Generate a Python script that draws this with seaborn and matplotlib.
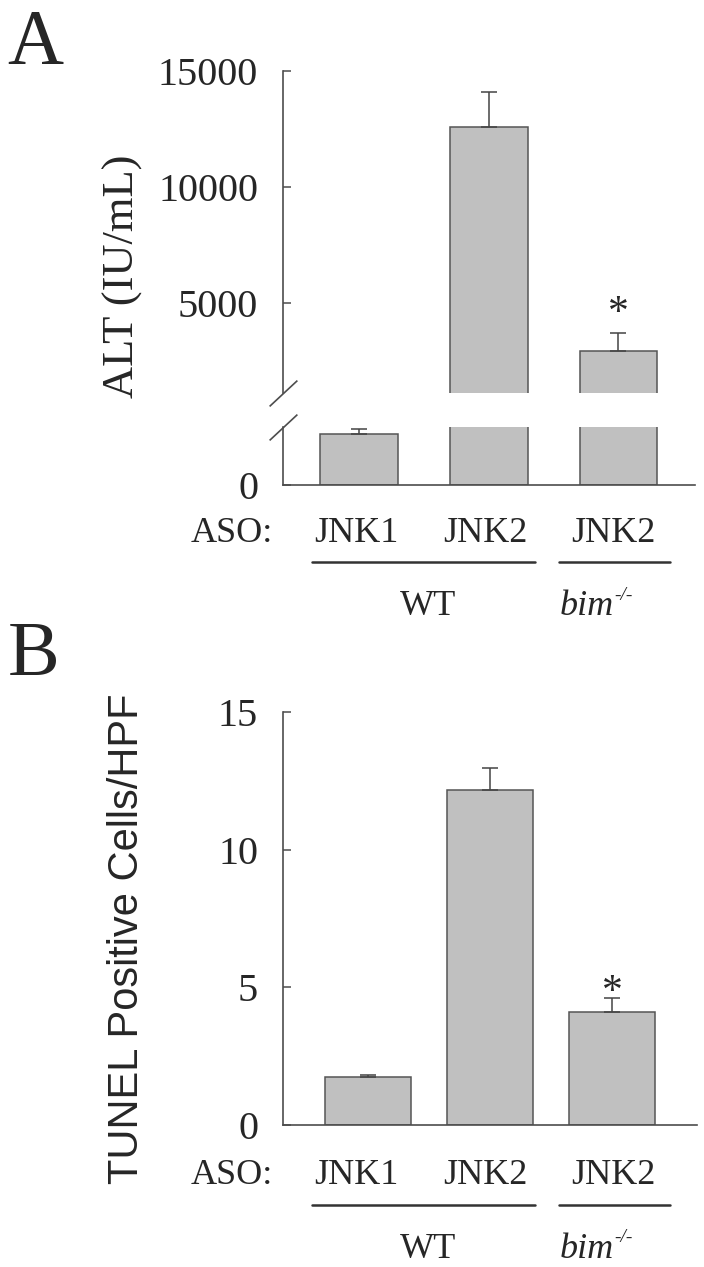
import numpy as np
import matplotlib
matplotlib.use('Agg')
import matplotlib.pyplot as plt
from matplotlib.lines import Line2D
import seaborn as sns

# ---- data ----
conditions = ['WT JNK1', 'WT JNK2', 'bim JNK2']
aso_labels = ['JNK1', 'JNK2', 'JNK2']
genotype_labels = ['WT', 'bim', '-/-']

alt_mean = [880, 12600, 2930]     # IU/mL
alt_err = [80, 1500, 770]
tunel_mean = [1.75, 12.15, 4.1]   # cells/HPF
tunel_err = [0.05, 0.8, 0.5]
star_index = 2

alt_ticks_top = [5000, 10000, 15000]
alt_ticks_low = [0]
tunel_ticks = [0, 5, 10, 15]

# ---- style ----
sns.set_theme(style='ticks')
plt.rcParams['font.family'] = ['Liberation Serif', 'DejaVu Serif']

BAR = '#c0c0c0'
EDGE = '#555555'
AXC = '#4d4d4d'
W, H = 704, 1267

fig = plt.figure(figsize=(W / 100, H / 100), dpi=100)


def rect(x0, y0, x1, y1):
    # pixel box -> figure fraction [left, bottom, width, height]
    return [x0 / W, 1 - y1 / H, (x1 - x0) / W, (y1 - y0) / H]


def style_axis(ax, ticks):
    ax.set_yticks(ticks)
    ax.tick_params(axis='y', direction='in', length=6, width=1.1, color=AXC,
                   pad=18, labelsize=29)
    ax.tick_params(axis='x', length=0, labelbottom=False)
    ax.set_xlabel('')
    ax.set_ylabel('')
    for s in ['top', 'right']:
        ax.spines[s].set_visible(False)
    for s in ['left', 'bottom']:
        ax.spines[s].set_color(AXC)
        ax.spines[s].set_linewidth(1.2)


def draw_bars(ax, means, errs, width):
    sns.barplot(x=conditions, y=means, color=BAR, saturation=1, width=width,
                edgecolor=EDGE, linewidth=1.1, errorbar=None, ax=ax)
    ax.errorbar(x=np.arange(len(means)), y=means,
                yerr=[np.zeros(len(errs)), errs], fmt='none',
                ecolor='#444444', elinewidth=1.1, capsize=6, capthick=1.1)


# ---- panel A: broken axis ----
axA_top = fig.add_axes(rect(283, 71, 695, 393))
axA_low = fig.add_axes(rect(283, 427, 695, 485))
for ax in (axA_top, axA_low):
    draw_bars(ax, alt_mean, alt_err, 0.6)
    ax.set_xlim(-0.586, 2.59)
axA_top.set_ylim(1120, 15000)
axA_low.set_ylim(0, 1000)
style_axis(axA_top, alt_ticks_top)
style_axis(axA_low, alt_ticks_low)
axA_top.spines['bottom'].set_visible(False)

# break marks
d = 0.93
kw = dict(marker=[(-1, -d), (1, d)], markersize=20, linestyle='none',
          color=AXC, mec=AXC, mew=1.2, clip_on=False)
axA_top.plot([0], [0], transform=axA_top.transAxes, **kw)
axA_low.plot([0], [1], transform=axA_low.transAxes, **kw)

axA_top.annotate('*', xy=(star_index, alt_mean[star_index] + alt_err[star_index]),
                 xytext=(0, 0), textcoords='offset points',
                 ha='center', va='bottom', fontsize=30)

# ---- panel B ----
axB = fig.add_axes(rect(283, 712, 697, 1125))
draw_bars(axB, tunel_mean, tunel_err, 0.705)
axB.set_xlim(-0.697, 2.697)
axB.set_ylim(0, 15)
style_axis(axB, tunel_ticks)
axB.annotate('*', xy=(star_index, tunel_mean[star_index] + tunel_err[star_index]),
             xytext=(0, -10), textcoords='offset points',
             ha='center', va='bottom', fontsize=30)


# ---- texts ----
def ftext(x, y, s, **kw):
    fig.text(x / W, 1 - y / H, s, **kw)


ftext(7, 63, 'A', fontsize=56, va='baseline', ha='left')
ftext(8, 675, 'B', fontsize=56, va='baseline', ha='left')
ftext(123, 276, 'ALT (IU/mL)', fontsize=32, rotation=90, ha='center', va='center')
ftext(127, 939, 'TUNEL Positive Cells/HPF', fontsize=30, rotation=90,
      ha='center', va='center', family=['Liberation Sans', 'DejaVu Sans'])

label_x = [356, 485, 613]
for row_y, line_y, geno_y in [(534, 562, 607), (1175, 1205, 1249)]:
    ftext(232, row_y, 'ASO:', fontsize=26, ha='center', va='center')
    for x, lab in zip(label_x, aso_labels):
        ftext(x, row_y, lab, fontsize=26, ha='center', va='center')
    for x0, x1 in [(312, 535), (559, 670)]:
        fig.add_artist(Line2D([x0 / W, x1 / W], [1 - line_y / H] * 2,
                              transform=fig.transFigure, color='#333333', lw=1.8))
    ftext(428, geno_y, genotype_labels[0], fontsize=26, ha='center', va='center')
    ftext(560, geno_y, genotype_labels[1], fontsize=26, ha='left', va='center',
          style='italic')
    ftext(614, geno_y - 11, genotype_labels[2], fontsize=14, ha='left', va='center',
          style='italic')

fig.savefig('out.png', dpi=100)
